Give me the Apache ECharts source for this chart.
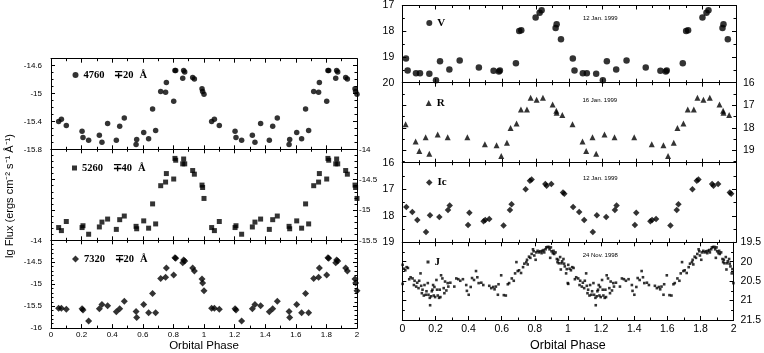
<!DOCTYPE html>
<html><head><meta charset="utf-8">
<script src="https://cdn.jsdelivr.net/npm/echarts@6/dist/echarts.min.js"></script>
<style>html,body{margin:0;padding:0;background:#fff}#c{width:764px;height:353px}</style>
</head><body><div id="c"></div><script>
// ---------- data (one orbital cycle; plotted twice, phase and phase+1) ----------
const leftPhase = [0.050,0.068,0.100,0.203,0.209,0.246,0.316,0.333,0.370,0.427,0.449,0.479,0.556,0.560,0.606,0.638,0.664,0.684,0.717,0.749,0.754,0.802,0.810,0.815,0.861,0.867,0.874,0.926,0.937,0.987,0.991,1.000];
const flux4760 = [-15.40,-15.37,-15.46,-15.54,-15.63,-15.67,-15.60,-15.70,-15.43,-15.67,-15.47,-15.35,-15.73,-15.66,-15.56,-15.65,-15.22,-15.53,-14.97,-14.98,-14.84,-15.11,-14.67,-14.67,-14.78,-14.67,-14.69,-14.77,-14.79,-14.93,-14.97,-15.01];
const flux5260 = [-15.29,-15.34,-15.19,-15.29,-15.26,-15.40,-15.28,-15.20,-15.15,-15.32,-15.16,-15.10,-15.27,-15.31,-15.18,-15.30,-14.90,-15.23,-14.60,-14.54,-14.40,-14.49,-14.15,-14.18,-14.24,-14.16,-14.24,-14.35,-14.41,-14.59,-14.63,-14.81];
const flux7320 = [-15.55,-15.55,-15.57,-15.56,-15.59,-15.84,-15.56,-15.46,-15.49,-15.63,-15.56,-15.39,-15.62,-15.76,-15.46,-15.65,-15.21,-15.65,-14.87,-14.84,-14.63,-14.79,-14.40,-14.41,-14.51,-14.45,-14.47,-14.63,-14.70,-14.88,-14.97,-15.15];

const vPhase = [0.022,0.032,0.082,0.106,0.162,0.202,0.226,0.282,0.344,0.459,0.547,0.579,0.585,0.681,0.701,0.713,0.799,0.823,0.835,0.919,0.925,0.951];
const vMag   = [19.06,19.53,19.63,19.63,19.65,19.90,19.17,19.49,19.14,19.41,19.54,19.56,19.53,19.24,17.99,17.96,17.47,17.28,17.18,17.87,17.73,18.31];

const rPhase = [0.020,0.080,0.102,0.140,0.162,0.212,0.272,0.390,0.495,0.565,0.593,0.627,0.649,0.685,0.711,0.747,0.769,0.805,0.843,0.901,0.923,0.925,0.959];
const rMag   = [17.84,18.61,19.03,18.42,19.15,18.30,18.42,18.42,18.73,18.78,19.25,18.67,18.01,17.81,17.19,17.19,16.67,16.76,16.67,16.97,17.24,17.33,17.43];

const icPhase = [0.024,0.060,0.090,0.142,0.166,0.222,0.274,0.284,0.394,0.402,0.487,0.497,0.521,0.607,0.645,0.655,0.739,0.765,0.775,0.857,0.865,0.893,0.963,0.971];
const icMag   = [17.67,17.86,18.16,18.61,17.98,18.05,17.78,17.61,18.35,17.89,18.21,18.16,18.12,18.37,17.78,17.57,17.00,16.68,16.63,16.80,16.87,16.80,17.12,17.17];

const jPhase = [0.002,0.010,0.018,0.026,0.034,0.002,0.042,0.050,0.062,0.074,
0.070,0.084,0.090,0.102,0.110,0.098,0.114,0.118,0.122,0.130,
0.134,0.142,0.146,0.154,0.158,0.166,0.168,0.174,0.178,0.182,
0.186,0.190,0.194,0.198,0.206,0.210,0.214,0.222,0.226,0.230,
0.234,0.242,0.250,0.254,0.258,0.266,0.274,0.278,0.290,0.314,
0.326,0.338,0.350,0.366,0.386,0.390,0.401,0.413,0.421,0.433,
0.445,0.453,0.461,0.477,0.489,0.525,0.537,0.549,0.557,0.565,
0.577,0.581,0.597,0.613,0.625,0.637,0.645,0.661,0.673,0.681,
0.689,0.697,0.705,0.717,0.729,0.737,0.749,0.753,0.757,0.765,
0.773,0.781,0.789,0.793,0.797,0.805,0.809,0.817,0.825,0.833,
0.841,0.845,0.853,0.857,0.865,0.869,0.877,0.885,0.889,0.893,
0.897,0.901,0.909,0.913,0.917,0.925,0.933,0.937,0.941,0.945,
0.953,0.957,0.961,0.965,0.973,0.977,0.981,0.989,0.993,0.999];
const jMag = [20.08,20.18,20.22,20.14,20.16,20.57,20.45,20.40,20.43,20.49,
20.60,20.64,20.54,20.49,20.30,20.68,20.62,20.81,20.72,20.87,
20.60,20.85,20.76,20.55,20.85,20.93,21.12,20.89,20.76,20.72,
20.60,20.87,20.65,20.91,20.47,20.72,20.87,20.93,20.72,20.91,
20.35,20.43,20.68,20.81,20.51,20.74,20.55,20.64,20.54,20.64,
20.43,20.45,20.49,20.45,20.60,20.75,20.85,20.65,20.42,20.47,
20.24,20.40,20.55,20.54,20.60,20.62,20.68,20.65,20.71,20.64,
20.85,20.58,20.35,20.86,20.87,20.58,20.55,20.43,20.49,20.30,
20.01,20.24,20.22,20.29,20.14,20.05,20.01,19.95,20.07,19.87,
19.90,19.80,19.68,19.73,19.84,19.95,19.76,19.72,19.76,19.73,
19.78,19.72,19.70,19.76,19.68,19.63,19.62,19.62,19.68,19.90,
19.63,19.73,19.78,19.72,19.80,19.76,19.93,20.01,19.95,20.04,
19.88,20.20,20.04,19.99,19.93,20.05,20.12,20.30,20.19,20.55];

// tick labels
const phaseTicks = [0,0.2,0.4,0.6,0.8,1,1.2,1.4,1.6,1.8,2];
const y4760Ticks = [-15.8,-15.4,-15,-14.6];
const y5260Ticks = [-15.5,-15,-14.5,-14];
const y7320Ticks = [-16,-15.5,-15,-14.5,-14];
const vTicks  = [17,18,19,20];
const rTicks  = [16,17,18,19];
const icTicks = [16,17,18,19];
const jTicks  = [19.5,20,20.5,21,21.5];

const seriesNames = ['4760 ∓20 Å','5260 ∓40 Å','7320 ∓20 Å','V','R','Ic','J'];
const dateTexts = ['12 Jan. 1999','16 Jan. 1999','12 Jan. 1999','24 Nov. 1998'];

// ---------- layout ----------
const SANS = 'Liberation Sans', SERIF = 'Liberation Serif';
const grids = [
  {left:51, top:58.7, width:306, height:90.6},
  {left:51, top:149.3, width:306, height:91},
  {left:51, top:240.3, width:306, height:92.4},
  {left:402.3, top:4.7, width:333.7, height:78},
  {left:402.3, top:82.7, width:333.7, height:80},
  {left:402.3, top:162.7, width:333.7, height:79.6},
  {left:402.3, top:242.3, width:333.7, height:80}
];

function cyc(ph, vals){
  const out = [];
  [0,1].forEach(k => ph.forEach((p,i) => out.push([p+k, vals[i]])));
  return out;
}
function base(split){
  return {
    type:'value',
    axisLine:{show:true,onZero:false,lineStyle:{color:'#000',width:1}},
    axisTick:{show:true,inside:true,length:4,lineStyle:{color:'#000',width:1}},
    minorTick:{show:true,splitNumber:split,length:2.5,lineStyle:{color:'#000',width:1}},
    splitLine:{show:false}, minorSplitLine:{show:false}
  };
}
function mkX(gi, pos, showLab, fs, margin, name, nameGap, nameFs){
  const a = base(2);
  Object.assign(a, {gridIndex:gi, position:pos, min:0, max:2, interval:0.2,
    axisLabel: showLab ? {show:true, customValues:phaseTicks, fontSize:fs, fontFamily:SANS, color:'#000', margin:margin} : {show:false}});
  if (name){ Object.assign(a,{name:name, nameLocation:'middle', nameGap:nameGap,
    nameTextStyle:{fontSize:nameFs, fontFamily:SANS, color:'#000'}}); }
  return a;
}
function mkY(gi, pos, min, max, interval, split, inverse, labels, fs, margin){
  const a = base(split);
  Object.assign(a, {gridIndex:gi, position:pos, min:min, max:max, interval:interval, inverse:inverse,
    axisLabel: labels ? {show:true, customValues:labels, fontSize:fs, fontFamily:SANS, color:'#000', margin:margin} : {show:false}});
  return a;
}

const xAxis = [], yAxis = [];
// left column
for (let g=0; g<3; g++){
  xAxis.push(mkX(g,'bottom', g===2, 8, 3, g===2?'Orbital Phase':null, 10, 11.5));
  xAxis.push(mkX(g,'top', false));
}
yAxis.push(mkY(0,'left',-15.8,-14.5,0.4,4,false,y4760Ticks,8,9));
yAxis.push(mkY(0,'right',-15.8,-14.5,0.4,4,false,null));
yAxis.push(mkY(1,'left',-15.5,-14,0.5,5,false,null));
yAxis.push(mkY(1,'right',-15.5,-14,0.5,5,false,y5260Ticks,8,2));
yAxis.push(mkY(2,'left',-16,-14,0.5,5,false,y7320Ticks,8,9));
yAxis.push(mkY(2,'right',-16,-14,0.5,5,false,null));
// right column
for (let g=3; g<7; g++){
  xAxis.push(mkX(g,'bottom', g===6, 10.5, 4, g===6?'Orbital Phase':null, 19, 12.5));
  xAxis.push(mkX(g,'top', false));
}
yAxis.push(mkY(3,'left',17,20,1,2,true,vTicks,10.5,8));
yAxis.push(mkY(3,'right',17,20,1,2,true,null));
yAxis.push(mkY(4,'left',16,19.55,1,2,true,null));
yAxis.push(mkY(4,'right',16,19.55,1,2,true,rTicks,10.5,7));
yAxis.push(mkY(5,'left',16,19,1,2,true,icTicks,10.5,8));
yAxis.push(mkY(5,'right',16,19,1,2,true,null));
yAxis.push(mkY(6,'left',19.5,21.5,0.5,2,true,null));
yAxis.push(mkY(6,'right',19.5,21.5,0.5,2,true,jTicks,10.5,7));

const panelData = [
  cyc(leftPhase, flux4760), cyc(leftPhase, flux5260), cyc(leftPhase, flux7320),
  cyc(vPhase, vMag), cyc(rPhase, rMag), cyc(icPhase, icMag), cyc(jPhase, jMag)
];
const symbols = ['circle','rect','diamond','circle','triangle','diamond','rect'];
const sizes   = [5.5, 5, 7, 6.5, 6, 6.5, 2.6];
const series = panelData.map((d,g) => ({
  type:'scatter', name:seriesNames[g], xAxisIndex:2*g, yAxisIndex:2*g, data:d,
  symbol:symbols[g], symbolSize:sizes[g], itemStyle:{color:'#000'}, silent:true, clip:false
}));

// legends (one per panel)
const legPos = [[72.5,69],[72,162],[72,253],[426.3,17],[425.7,97],[426,176.5],[426.5,256]];
const legIcon = [6,5,7,6,6,6.5,3];
const legend = seriesNames.map((n,g) => ({
  data:[n], left:legPos[g][0], top:legPos[g][1], padding:0, selectedMode:false,
  itemWidth:legIcon[g], itemHeight:legIcon[g],
  formatter: g<3 ? (name => { const p = name.split(' '); return '{a|'+p[0]+'}{b|'+p[1]+'}{c|'+p[2]+'}'; }) : null,
  textStyle:{fontFamily:SERIF, fontWeight:'bold', fontSize:11, color:'#000', lineHeight:12,
    rich:{a:{width:30.5,fontFamily:SERIF,fontWeight:'bold',fontSize:10.5},
          b:{width:25.5,fontFamily:SERIF,fontWeight:'bold',fontSize:10.5},
          c:{fontFamily:SERIF,fontWeight:'bold',fontSize:10.5}}}
}));

const datePos = [[583,15],[582.5,97],[583,175.5],[582.7,252]];
const title = dateTexts.map((t,i) => ({text:t, left:datePos[i][0], top:datePos[i][1], padding:0,
  textStyle:{fontSize:6, fontWeight:'normal', fontFamily:SANS, color:'#000'}}));

const chart = echarts.init(document.getElementById('c'), null, {renderer:'canvas'});
chart.setOption({
  animation:false, backgroundColor:'#fff',
  grid:grids, xAxis:xAxis, yAxis:yAxis, series:series, legend:legend, title:title,
  graphic:[{type:'text', x:10, y:196, rotation:Math.PI/2,
    style:{text:'lg Flux (ergs cm⁻² s⁻¹ Å⁻¹)', fontFamily:SANS, fontSize:11, fill:'#000', align:'center', verticalAlign:'middle'}}]
});
</script></body></html>
